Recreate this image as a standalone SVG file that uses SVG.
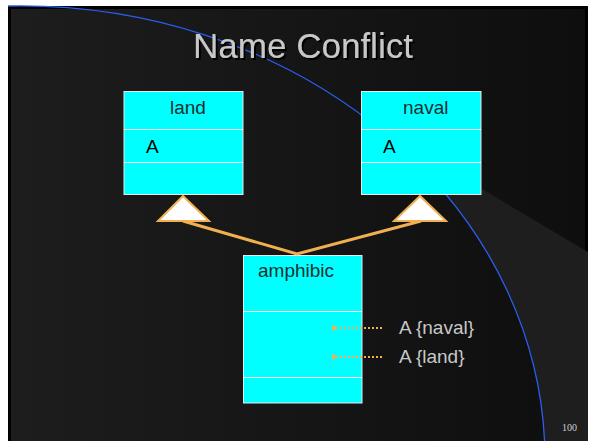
<svg xmlns="http://www.w3.org/2000/svg" width="590" height="441" viewBox="0 0 590 441">
<defs>
<linearGradient id="bg" x1="10" y1="0" x2="588" y2="0" gradientUnits="userSpaceOnUse">
<stop offset="0" stop-color="#1d1d1d"/>
<stop offset="1" stop-color="#0e0e0e"/>
</linearGradient>
<filter id="shadow" x="-10%" y="-30%" width="120%" height="160%">
<feOffset in="SourceAlpha" dx="2" dy="2" result="o"/>
<feFlood flood-color="#000"/>
<feComposite in2="o" operator="in" result="s"/>
<feMerge><feMergeNode in="s"/><feMergeNode in="SourceGraphic"/></feMerge>
</filter>
<clipPath id="frame"><rect x="8" y="5" width="580" height="436"/></clipPath>
<clipPath id="outside"><path clip-rule="evenodd" d="M0 0H590V441H0Z M-505 460A525 454 0 1 0 545 460A525 454 0 1 0 -505 460Z"/></clipPath>
<marker id="ah" viewBox="0 0 6 6" refX="1" refY="3" markerWidth="6" markerHeight="6" markerUnits="userSpaceOnUse" orient="auto">
<path d="M6 0L0 3L6 6Z" fill="#f0b050"/>
</marker>
<style>
.box{fill:#00ffff;stroke:#e8e8e8;stroke-width:1}
.div{stroke:#ffffff;stroke-width:1}
.t{font-family:"Liberation Sans",Arial,sans-serif;font-size:19px;fill:#1e2e2e}
.a{font-family:"Liberation Sans",Arial,sans-serif;font-size:19px;fill:#000}
.lbl{font-family:"Liberation Sans",Arial,sans-serif;font-size:19px;fill:#c8c8c8}
.tri{fill:#ffffff;stroke:#f0b050;stroke-width:2;stroke-linejoin:miter}
.gen{stroke:#f0b050;stroke-width:3;fill:none}
.dot{stroke:#f0b050;stroke-width:2;stroke-dasharray:2 2;fill:none}
</style>
</defs>
<rect width="590" height="441" fill="#ffffff"/>
<rect x="8" y="6" width="580" height="435" fill="#000"/>
<rect x="11" y="9" width="574" height="432" fill="url(#bg)"/>
<g clip-path="url(#outside)">
<polygon points="430,158 588,252 588,441 430,441" fill="#1e1e1e" clip-path="url(#frame)"/>
</g>
<path d="M8 6A525 454 0 0 1 545 460" fill="none" stroke="#2a5ef0" stroke-width="1.3" clip-path="url(#frame)"/>
<g id="title">
<text x="303" y="58" text-anchor="middle" font-family="Liberation Sans,Arial,sans-serif" font-size="35" fill="#c8c8c8" filter="url(#shadow)">Name Conflict</text>
</g>
<g id="land">
<rect class="box" x="124" y="91.5" width="119" height="103"/>
<line class="div" x1="124" y1="129.5" x2="243" y2="129.5"/>
<line class="div" x1="124" y1="162.5" x2="243" y2="162.5"/>
<text class="t" x="170" y="114">land</text>
<text class="a" x="146" y="153">A</text>
</g>
<g id="naval">
<rect class="box" x="361.5" y="91.5" width="119.5" height="103"/>
<line class="div" x1="361.5" y1="129.5" x2="481" y2="129.5"/>
<line class="div" x1="361.5" y1="162.5" x2="481" y2="162.5"/>
<text class="t" x="403" y="114">naval</text>
<text class="a" x="383" y="153">A</text>
</g>
<g id="amphibic">
<rect class="box" x="243.5" y="255.5" width="118.5" height="147.5"/>
<line class="div" x1="243.5" y1="311.5" x2="362" y2="311.5"/>
<line class="div" x1="243.5" y1="377.5" x2="362" y2="377.5"/>
<text class="t" x="258" y="277">amphibic</text>
</g>
<g id="connectors">
<polyline class="gen" points="183,221 297,254 421,221"/>
<polygon class="tri" points="183,196 158,221 209,221"/>
<polygon class="tri" points="420,196 394,221 446,221"/>
<line class="dot" x1="382" y1="328" x2="337" y2="328" marker-end="url(#ah)"/>
<line class="dot" x1="382" y1="357" x2="337" y2="357" marker-end="url(#ah)"/>
</g>
<g id="labels">
<text class="lbl" x="399" y="334">A {naval}</text>
<text class="lbl" x="399" y="363">A {land}</text>
<text x="562" y="431" font-family="Liberation Serif,serif" font-size="10" fill="#d0d0d0">100</text>
</g>
</svg>
